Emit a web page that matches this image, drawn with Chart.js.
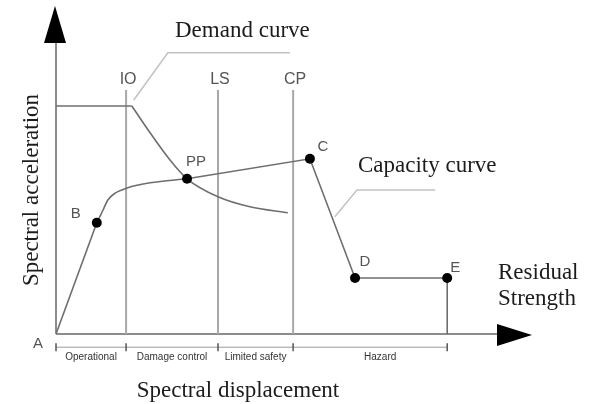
<!DOCTYPE html>
<html>
<head>
<meta charset="utf-8">
<script src="https://cdn.jsdelivr.net/npm/chart.js@4/dist/chart.umd.min.js"></script>
<style>
  html, body { margin: 0; padding: 0; background: #fff; }
  canvas { display: block; }
</style>
</head>
<body>
<canvas id="pushover" width="589" height="404"></canvas>
<script>
// schematic values (arbitrary units, origin A at 0,0)
const zones = ['Operational', 'Damage control', 'Limited safety', 'Hazard'];
const limitStates = ['IO', 'LS', 'CP'];
const limitX = [1.46, 3.375, 4.94];
const limitTop = 6.1;
const zoneEdges = [0, 1.46, 3.375, 4.94, 8.15];

const pointNames = ['B', 'PP', 'C', 'D', 'E'];
const pointX = [0.85, 2.73, 5.29, 6.23, 8.15];
const pointY = [2.78, 3.88, 4.38, 1.4, 1.4];

// capacity curve: elastic part, bend, then softening branch
const elasticX = [0, 0.85];
const elasticY = [0, 2.78];
const bendX = [0.85, 0.98, 1.08, 1.23, 1.48, 1.96, 2.73];
const bendY = [2.78, 3.1, 3.35, 3.52, 3.65, 3.78, 3.88];
const softX = [2.73, 5.29, 6.23, 8.15, 8.15];
const softY = [3.88, 4.38, 1.4, 1.4, 0];

// demand curve
const plateauX = [0, 1.58];
const plateauY = [5.7, 5.7];
const demandX = [1.58, 1.96, 2.375, 2.73, 3.375, 4.04, 4.83];
const demandY = [5.7, 5.03, 4.35, 3.88, 3.43, 3.18, 3.03];

// leader lines for the curve names
const demandLeadX = [1.62, 2.33, 4.88];
const demandLeadY = [5.85, 7.03, 7.03];
const capLeadX = [5.81, 6.27, 7.9];
const capLeadY = [2.93, 3.6, 3.6];

const pts = (xs, ys) => xs.map((x, i) => ({ x: x, y: ys[i] }));

const lineColor = '#6e6e6e';
const gridColor = '#a8a8a8';

const datasets = [
    {
        data: pts(pointX, pointY),
        showLine: false,
        pointRadius: 5,
        pointBackgroundColor: '#000',
        pointBorderWidth: 0
    },
    { data: pts(elasticX, elasticY), showLine: true, borderColor: lineColor, borderWidth: 1.6, pointRadius: 0 },
    { data: pts(bendX, bendY), showLine: true, borderColor: lineColor, borderWidth: 1.6, pointRadius: 0, cubicInterpolationMode: 'monotone' },
    { data: pts(softX, softY), showLine: true, borderColor: lineColor, borderWidth: 1.6, pointRadius: 0 },
    { data: pts(plateauX, plateauY), showLine: true, borderColor: lineColor, borderWidth: 1.6, pointRadius: 0 },
    { data: pts(demandX, demandY), showLine: true, borderColor: lineColor, borderWidth: 1.6, pointRadius: 0, cubicInterpolationMode: 'monotone' },
    { data: pts(demandLeadX, demandLeadY), showLine: true, borderColor: '#c4c4c4', borderWidth: 1.6, pointRadius: 0, clip: false },
    { data: pts(capLeadX, capLeadY), showLine: true, borderColor: '#c4c4c4', borderWidth: 1.6, pointRadius: 0 },
    {
        data: zoneEdges.map(x => ({ x: x, y: -0.33 })),
        showLine: true,
        borderColor: '#9a9a9a',
        borderWidth: 1,
        pointRadius: 0,
        clip: false
    }
];
limitX.forEach(x => {
    datasets.push({
        data: [{ x: x, y: 0 }, { x: x, y: limitTop }],
        showLine: true, borderColor: gridColor, borderWidth: 2, pointRadius: 0
    });
});

const decor = {
    id: 'decor',
    beforeDatasetsDraw(chart) {
        const ctx = chart.ctx;
        const xs = chart.scales.x, ys = chart.scales.y;
        const ox = xs.getPixelForValue(0), oy = ys.getPixelForValue(0);
        ctx.save();
        ctx.strokeStyle = '#8c8c8c';
        ctx.lineWidth = 2;
        ctx.beginPath();
        ctx.moveTo(ox, oy);
        ctx.lineTo(ox, 42);
        ctx.moveTo(ox, oy);
        ctx.lineTo(500, oy);
        ctx.stroke();
        ctx.fillStyle = '#000';
        ctx.beginPath();
        ctx.moveTo(ox - 1, 6);
        ctx.lineTo(ox - 12, 43);
        ctx.lineTo(ox + 10, 43);
        ctx.closePath();
        ctx.fill();
        ctx.beginPath();
        ctx.moveTo(532, oy + 1);
        ctx.lineTo(497, oy - 10);
        ctx.lineTo(497, oy + 12);
        ctx.closePath();
        ctx.fill();
        ctx.restore();
    },
    afterDraw(chart) {
        const ctx = chart.ctx;
        const xs = chart.scales.x, ys = chart.scales.y;
        ctx.save();

        // small ticks on the zone dimension line
        const dimY = ys.getPixelForValue(-0.33);
        ctx.strokeStyle = '#555';
        ctx.lineWidth = 1.5;
        zoneEdges.forEach(x => {
            const px = xs.getPixelForValue(x);
            ctx.beginPath();
            ctx.moveTo(px, dimY - 4);
            ctx.lineTo(px, dimY + 4);
            ctx.stroke();
        });

        ctx.textAlign = 'center';
        ctx.textBaseline = 'middle';

        // limit state names
        ctx.fillStyle = '#555';
        ctx.font = '16px "Liberation Sans", Arial, sans-serif';
        limitStates.forEach((s, i) => {
            ctx.fillText(s, xs.getPixelForValue(limitX[i]) + 2, 80);
        });

        // point names
        const offs = [[-21, -9], [9, -17], [13, -12], [10, -16], [8, -10]];
        ctx.font = '15px "Liberation Sans", Arial, sans-serif';
        pointNames.forEach((n, i) => {
            ctx.fillText(n, xs.getPixelForValue(pointX[i]) + offs[i][0], ys.getPixelForValue(pointY[i]) + offs[i][1]);
        });
        ctx.fillText('A', xs.getPixelForValue(0) - 18, ys.getPixelForValue(0) + 10);

        // zone names below the axis
        ctx.fillStyle = '#333';
        ctx.font = '10px "Liberation Sans", Arial, sans-serif';
        zones.forEach((z, i) => {
            let cx = (xs.getPixelForValue(zoneEdges[i]) + xs.getPixelForValue(zoneEdges[i + 1])) / 2;
            if (i === zones.length - 1) cx += 10;
            ctx.fillText(z, cx, 357);
        });

        // serif titles
        ctx.fillStyle = '#1c1c1c';
        ctx.font = '23px "Liberation Serif", "Times New Roman", serif';
        ctx.textBaseline = 'alphabetic';
        ctx.textAlign = 'left';
        ctx.fillText('Demand curve', 175, 37);
        ctx.fillText('Capacity curve', 358, 172);
        ctx.fillText('Residual', 498, 279);
        ctx.fillText('Strength', 498, 305);
        ctx.textAlign = 'center';
        ctx.fillText('Spectral displacement', 238, 397);
        ctx.translate(38, 190);
        ctx.rotate(-Math.PI / 2);
        ctx.fillText('Spectral acceleration', 0, 0);
        ctx.restore();
    }
};

new Chart(document.getElementById('pushover').getContext('2d'), {
    type: 'scatter',
    data: { datasets: datasets },
    options: {
        responsive: false,
        animation: false,
        layout: { padding: { left: 56, right: 53, top: 14, bottom: 70 } },
        scales: {
            x: { type: 'linear', min: 0, max: 10, display: false },
            y: { type: 'linear', min: 0, max: 8, display: false }
        },
        plugins: {
            legend: { display: false },
            tooltip: { enabled: false }
        }
    },
    plugins: [decor]
});
</script>
</body>
</html>
